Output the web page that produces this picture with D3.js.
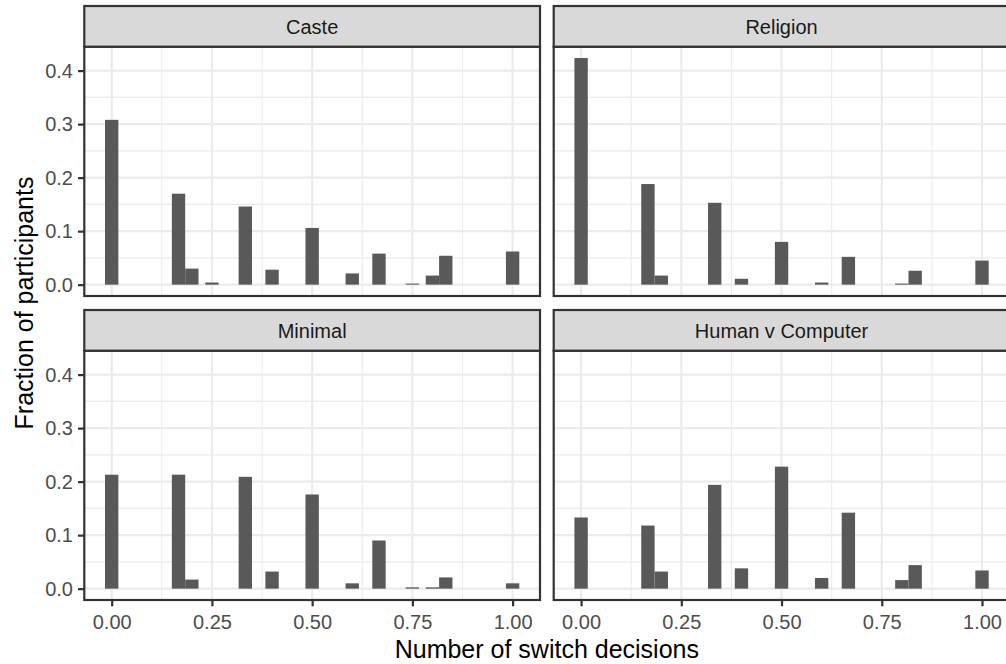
<!DOCTYPE html>
<html>
<head>
<meta charset="utf-8">
<script src="https://cdn.jsdelivr.net/npm/d3@7"></script>
<style>
  body { margin: 0; background: #fff; }
  svg text { font-family: "Liberation Sans", Arial, Helvetica, sans-serif; }
</style>
</head>
<body>
<div id="chart"></div>
<script>
// data
var facets = ["Caste", "Religion", "Minimal", "Human v Computer"];
var switchShare = [0, 0.1667, 0.2, 0.25, 0.3333, 0.4, 0.5, 0.6, 0.6667, 0.75, 0.8, 0.8333, 1];
var caste = [0.308, 0.170, 0.030, 0.004, 0.146, 0.028, 0.106, 0.021, 0.058, 0.002, 0.017, 0.054, 0.062];
var religion = [0.4235, 0.188, 0.017, 0, 0.153, 0.011, 0.080, 0.004, 0.052, 0, 0.002, 0.026, 0.045];
var minimal = [0.213, 0.213, 0.017, 0, 0.209, 0.032, 0.176, 0.010, 0.090, 0.0025, 0.0025, 0.021, 0.010];
var humanComputer = [0.133, 0.118, 0.032, 0, 0.194, 0.038, 0.228, 0.020, 0.142, 0, 0.016, 0.044, 0.034];
var xTicks = [0, 0.25, 0.5, 0.75, 1];
var xTickLabels = ["0.00", "0.25", "0.50", "0.75", "1.00"];
var xMinor = [0.125, 0.375, 0.625, 0.875];
var yTicks = [0, 0.1, 0.2, 0.3, 0.4];
var yTickLabels = ["0.0", "0.1", "0.2", "0.3", "0.4"];
var yMinor = [0.05, 0.15, 0.25, 0.35];
var binWidth = 0.0333;

var seriesByFacet = [caste, religion, minimal, humanComputer];

// layout
var width = 1006, height = 664;
var marginLeft = 84.3, marginTop = 6;
var panelW = 455.7, panelH = 249.3, stripH = 40.7;
var gapX = 13.7, gapY = 14;

var svg = d3.select("#chart")
  .append("svg")
    .attr("width", width)
    .attr("height", height)
    .style("display", "block");

// scales (ggplot style 5% expansion)
var xLo = 0 - binWidth / 2, xHi = 1 + binWidth / 2;
var xPad = (xHi - xLo) * 0.05;
var x = d3.scaleLinear()
  .domain([xLo - xPad, xHi + xPad])
  .range([0, panelW]);

var yMax = d3.max(seriesByFacet, function (s) { return d3.max(s); });
var y = d3.scaleLinear()
  .domain([-yMax * 0.05, yMax * 1.05])
  .range([panelH, 0]);

facets.forEach(function (name, i) {
  var col = i % 2, row = Math.floor(i / 2);
  var px = marginLeft + col * (panelW + gapX);
  var py = marginTop + row * (stripH + panelH + gapY);

  var g = svg.append("g")
    .attr("transform", "translate(" + px + "," + (py + stripH) + ")");

  g.append("rect")
    .attr("width", panelW)
    .attr("height", panelH)
    .attr("fill", "#fff");

  // minor grid
  g.selectAll(".xminor").data(xMinor).enter().append("line")
    .attr("x1", function (d) { return x(d); }).attr("x2", function (d) { return x(d); })
    .attr("y1", 0).attr("y2", panelH)
    .attr("stroke", "#ebebeb").attr("stroke-width", 1.1);
  g.selectAll(".yminor").data(yMinor).enter().append("line")
    .attr("x1", 0).attr("x2", panelW)
    .attr("y1", function (d) { return y(d); }).attr("y2", function (d) { return y(d); })
    .attr("stroke", "#ebebeb").attr("stroke-width", 1.1);

  // major grid
  g.selectAll(".xmajor").data(xTicks).enter().append("line")
    .attr("x1", function (d) { return x(d); }).attr("x2", function (d) { return x(d); })
    .attr("y1", 0).attr("y2", panelH)
    .attr("stroke", "#ebebeb").attr("stroke-width", 2.2);
  g.selectAll(".ymajor").data(yTicks).enter().append("line")
    .attr("x1", 0).attr("x2", panelW)
    .attr("y1", function (d) { return y(d); }).attr("y2", function (d) { return y(d); })
    .attr("stroke", "#ebebeb").attr("stroke-width", 2.2);

  // bars
  var vals = seriesByFacet[i];
  g.selectAll(".bar")
    .data(switchShare.map(function (s, k) { return { x: s, v: vals[k] }; }).filter(function (d) { return d.v > 0; }))
    .enter()
    .append("rect")
      .attr("x", function (d) { return x(d.x - binWidth / 2); })
      .attr("width", function (d) { return x(d.x + binWidth / 2) - x(d.x - binWidth / 2); })
      .attr("y", function (d) { return y(d.v); })
      .attr("height", function (d) { return y(0) - y(d.v); })
      .attr("fill", "#595959");

  g.append("rect")
    .attr("width", panelW)
    .attr("height", panelH)
    .attr("fill", "none")
    .attr("stroke", "#333333")
    .attr("stroke-width", 2.2);

  // strip
  var strip = svg.append("g")
    .attr("transform", "translate(" + px + "," + py + ")");
  strip.append("rect")
    .attr("width", panelW)
    .attr("height", stripH)
    .attr("fill", "#d9d9d9")
    .attr("stroke", "#333333")
    .attr("stroke-width", 2.2);
  strip.append("text")
    .attr("x", panelW / 2)
    .attr("y", stripH / 2 + 7.2)
    .attr("text-anchor", "middle")
    .attr("font-size", 20)
    .attr("fill", "#1a1a1a")
    .text(name);

  // axes
  if (col === 0) {
    var ay = g.append("g")
      .call(d3.axisLeft(y).tickValues(yTicks)
        .tickFormat(function (d, k) { return yTickLabels[k]; })
        .tickSize(6.3).tickPadding(5).tickSizeOuter(0));
    ay.select(".domain").remove();
    ay.selectAll("line").attr("stroke", "#333333").attr("stroke-width", 2.2);
    ay.selectAll("text").attr("font-size", 20).attr("fill", "#4d4d4d")
      .style("font-family", "'Liberation Sans', Arial, sans-serif");
  }
  if (row === 1) {
    var ax = g.append("g")
      .attr("transform", "translate(0," + panelH + ")")
      .call(d3.axisBottom(x).tickValues(xTicks)
        .tickFormat(function (d, k) { return xTickLabels[k]; })
        .tickSize(6.3).tickPadding(8).tickSizeOuter(0));
    ax.select(".domain").remove();
    ax.selectAll("line").attr("stroke", "#333333").attr("stroke-width", 2.2);
    ax.selectAll("text").attr("font-size", 20).attr("fill", "#4d4d4d")
      .style("font-family", "'Liberation Sans', Arial, sans-serif");
  }
});

// axis titles
var plotRight = marginLeft + 2 * panelW + gapX;
svg.append("text")
  .attr("x", (marginLeft + plotRight) / 2)
  .attr("y", 658)
  .attr("text-anchor", "middle")
  .attr("font-size", 25)
  .attr("fill", "#000")
  .text("Number of switch decisions");

var plotBottom = marginTop + 2 * (stripH + panelH) + gapY;
svg.append("text")
  .attr("transform", "translate(33," + ((marginTop + plotBottom) / 2) + ") rotate(-90)")
  .attr("text-anchor", "middle")
  .attr("font-size", 25)
  .attr("fill", "#000")
  .text("Fraction of participants");
</script>
</body>
</html>
